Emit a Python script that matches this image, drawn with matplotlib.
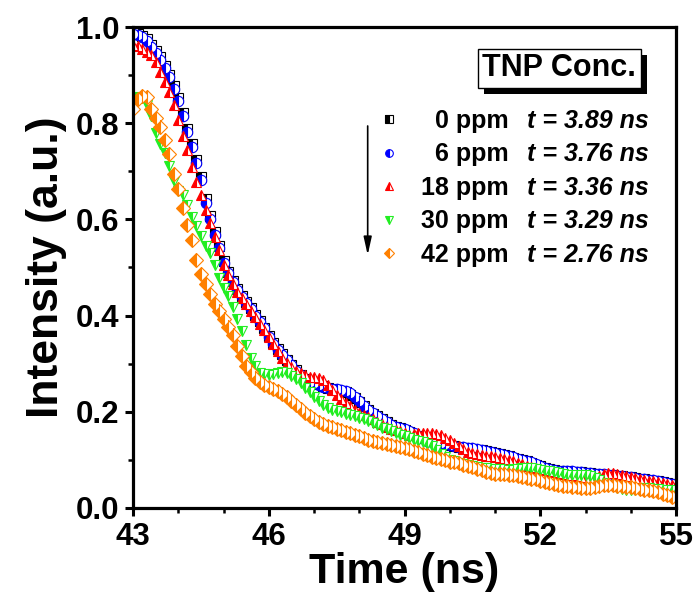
import numpy as np
import matplotlib
matplotlib.use('Agg')
import matplotlib.pyplot as plt
from matplotlib.lines import Line2D
import matplotlib.patheffects as pe

plt.rcParams['font.family'] = ['Liberation Sans', 'DejaVu Sans']
plt.rcParams['font.weight'] = 'bold'

# time axis (ns), sampled every 0.1 ns
time_ns = np.round(np.arange(430, 551) / 10.0, 1)

# normalised decay curves
ppm_0 = [0.988, 0.985, 0.981, 0.975, 0.962, 0.951, 0.937, 0.920, 0.901, 0.877,
         0.852, 0.821, 0.788, 0.756, 0.724, 0.688, 0.642, 0.606, 0.573, 0.545,
         0.514, 0.491, 0.472, 0.456, 0.441, 0.429, 0.416, 0.401, 0.388, 0.375,
         0.357, 0.343, 0.330, 0.319, 0.308, 0.298, 0.286, 0.277, 0.269, 0.263,
         0.260, 0.257, 0.253, 0.250, 0.248, 0.246, 0.244, 0.240, 0.235, 0.228,
         0.220, 0.211, 0.203, 0.196, 0.190, 0.184, 0.178, 0.173, 0.169, 0.166,
         0.162, 0.158, 0.154, 0.149, 0.145, 0.141, 0.138, 0.136, 0.134, 0.132,
         0.130, 0.129, 0.127, 0.125, 0.124, 0.123, 0.121, 0.120, 0.118, 0.116,
         0.114, 0.112, 0.109, 0.107, 0.104, 0.102, 0.099, 0.097, 0.094, 0.090,
         0.086, 0.083, 0.080, 0.078, 0.077, 0.076, 0.076, 0.075, 0.074, 0.074,
         0.073, 0.072, 0.071, 0.070, 0.069, 0.069, 0.068, 0.067, 0.066, 0.065,
         0.064, 0.062, 0.061, 0.059, 0.058, 0.056, 0.055, 0.053, 0.051, 0.050,
         0.049]

ppm_6 = [0.985, 0.983, 0.979, 0.972, 0.958, 0.947, 0.932, 0.915, 0.896, 0.871,
         0.846, 0.815, 0.781, 0.750, 0.718, 0.681, 0.635, 0.600, 0.568, 0.541,
         0.510, 0.488, 0.469, 0.453, 0.439, 0.427, 0.414, 0.399, 0.386, 0.374,
         0.355, 0.341, 0.329, 0.318, 0.307, 0.297, 0.285, 0.276, 0.268, 0.262,
         0.260, 0.256, 0.252, 0.250, 0.248, 0.247, 0.245, 0.242, 0.238, 0.230,
         0.222, 0.212, 0.203, 0.197, 0.190, 0.185, 0.178, 0.172, 0.169, 0.166,
         0.163, 0.159, 0.155, 0.150, 0.145, 0.140, 0.137, 0.135, 0.134, 0.132,
         0.131, 0.129, 0.127, 0.126, 0.125, 0.124, 0.122, 0.120, 0.119, 0.117,
         0.115, 0.112, 0.110, 0.107, 0.105, 0.102, 0.100, 0.097, 0.095, 0.091,
         0.087, 0.083, 0.080, 0.078, 0.077, 0.077, 0.076, 0.076, 0.075, 0.074,
         0.073, 0.072, 0.071, 0.071, 0.070, 0.069, 0.068, 0.067, 0.066, 0.065,
         0.064, 0.063, 0.061, 0.059, 0.058, 0.057, 0.055, 0.053, 0.052, 0.050,
         0.048]

ppm_18 = [0.962, 0.961, 0.954, 0.948, 0.942, 0.928, 0.907, 0.886, 0.864, 0.838,
          0.806, 0.773, 0.744, 0.708, 0.677, 0.650, 0.620, 0.592, 0.563, 0.536,
          0.505, 0.484, 0.465, 0.449, 0.436, 0.423, 0.410, 0.396, 0.383, 0.370,
          0.355, 0.340, 0.326, 0.312, 0.302, 0.292, 0.285, 0.280, 0.276, 0.273,
          0.272, 0.270, 0.265, 0.255, 0.245, 0.235, 0.226, 0.218, 0.211, 0.204,
          0.198, 0.193, 0.189, 0.184, 0.179, 0.174, 0.169, 0.165, 0.162, 0.159,
          0.156, 0.152, 0.153, 0.155, 0.156, 0.156, 0.156, 0.154, 0.151, 0.146,
          0.141, 0.134, 0.128, 0.122, 0.117, 0.114, 0.111, 0.110, 0.108, 0.107,
          0.105, 0.103, 0.101, 0.100, 0.097, 0.094, 0.091, 0.088, 0.085, 0.083,
          0.080, 0.078, 0.076, 0.074, 0.072, 0.071, 0.069, 0.068, 0.066, 0.064,
          0.063, 0.062, 0.063, 0.066, 0.070, 0.072, 0.072, 0.071, 0.069, 0.067,
          0.065, 0.063, 0.060, 0.058, 0.056, 0.055, 0.053, 0.051, 0.049, 0.048,
          0.047]

ppm_30 = [0.845, 0.855, 0.852, 0.838, 0.815, 0.780, 0.757, 0.737, 0.710, 0.680,
          0.660, 0.650, 0.630, 0.604, 0.586, 0.565, 0.545, 0.530, 0.505, 0.478,
          0.458, 0.440, 0.417, 0.392, 0.368, 0.338, 0.312, 0.295, 0.281, 0.278,
          0.277, 0.278, 0.281, 0.283, 0.280, 0.274, 0.267, 0.259, 0.249, 0.240,
          0.231, 0.223, 0.214, 0.207, 0.203, 0.201, 0.199, 0.196, 0.193, 0.190,
          0.187, 0.184, 0.180, 0.176, 0.172, 0.167, 0.163, 0.159, 0.155, 0.152,
          0.149, 0.146, 0.142, 0.139, 0.136, 0.133, 0.128, 0.120, 0.113, 0.106,
          0.100, 0.097, 0.094, 0.091, 0.089, 0.087, 0.085, 0.083, 0.082, 0.081,
          0.080, 0.080, 0.079, 0.079, 0.080, 0.081, 0.082, 0.082, 0.082, 0.081,
          0.079, 0.077, 0.076, 0.074, 0.072, 0.070, 0.069, 0.069, 0.069, 0.068,
          0.068, 0.067, 0.063, 0.057, 0.052, 0.048, 0.045, 0.042, 0.039, 0.037,
          0.037, 0.038, 0.040, 0.041, 0.041, 0.040, 0.039, 0.038, 0.037, 0.037,
          0.036]

ppm_42 = [0.830, 0.850, 0.857, 0.855, 0.830, 0.810, 0.792, 0.766, 0.735, 0.694,
          0.663, 0.624, 0.588, 0.557, 0.516, 0.486, 0.465, 0.444, 0.425, 0.409,
          0.393, 0.377, 0.359, 0.336, 0.315, 0.296, 0.282, 0.270, 0.262, 0.255,
          0.251, 0.248, 0.243, 0.236, 0.230, 0.222, 0.214, 0.206, 0.198, 0.191,
          0.184, 0.178, 0.174, 0.170, 0.168, 0.165, 0.161, 0.158, 0.155, 0.152,
          0.149, 0.145, 0.142, 0.139, 0.136, 0.134, 0.132, 0.131, 0.129, 0.127,
          0.125, 0.122, 0.119, 0.116, 0.112, 0.109, 0.106, 0.104, 0.102, 0.099,
          0.096, 0.095, 0.093, 0.090, 0.087, 0.085, 0.081, 0.078, 0.075, 0.072,
          0.071, 0.070, 0.070, 0.069, 0.068, 0.066, 0.065, 0.063, 0.061, 0.059,
          0.056, 0.053, 0.051, 0.049, 0.047, 0.046, 0.045, 0.044, 0.043, 0.042,
          0.041, 0.041, 0.043, 0.045, 0.047, 0.048, 0.047, 0.046, 0.045, 0.044,
          0.044, 0.042, 0.040, 0.038, 0.037, 0.035, 0.032, 0.029, 0.026, 0.023,
          0.022]

ppm_labels = ['  0 ppm', '  6 ppm', '18 ppm', '30 ppm', '42 ppm']
lifetimes = ['t = 3.89 ns', 't = 3.76 ns', 't = 3.36 ns', 't = 3.29 ns', 't = 2.76 ns']

series = [ppm_0, ppm_6, ppm_18, ppm_30, ppm_42]
colors = ['black', '#0000ff', '#ff0000', '#22ee22', '#ff8000']
markers = ['s', 'o', '^', 'v', 'D']

fig = plt.figure(figsize=(6.97, 6.01), dpi=100)
ax = fig.add_axes([0.191, 0.155, 0.779, 0.800])

for y, c, m in zip(series, colors, markers):
    ax.plot(time_ns, y, linestyle='none', marker=m, markersize=7.5,
            fillstyle='left', markerfacecolor=c, markerfacecoloralt='white',
            markeredgecolor=c, markeredgewidth=0.8)

ax.set_xlim(43, 55)
ax.set_ylim(0, 1.0)
ax.set_xticks([43, 46, 49, 52, 55])
ax.set_xticks(np.arange(43, 56, 1), minor=True)
ax.set_yticks([0.0, 0.2, 0.4, 0.6, 0.8, 1.0])
ax.set_yticks(np.arange(0, 1.01, 0.1), minor=True)
ax.set_yticklabels(['0.0', '0.2', '0.4', '0.6', '0.8', '1.0'])

for s in ax.spines.values():
    s.set_linewidth(2.3)
ax.tick_params(which='major', direction='out', length=6, width=2.2,
               labelsize=22.5, pad=4)
ax.tick_params(which='minor', direction='out', length=3.5, width=1.8)

ax.set_xlabel('Time (ns)', fontsize=31, fontweight='bold', labelpad=0)
ax.set_ylabel('Intensity (a.u.)', fontsize=32, fontweight='bold', labelpad=6)

# legend: markers + concentrations
handles = [Line2D([], [], linestyle='none', marker=m, markersize=5.5,
                  fillstyle='left', markerfacecolor=c, markerfacecoloralt='white',
                  markeredgecolor=c, markeredgewidth=0.8)
           for c, m in zip(colors, markers)]
leg = ax.legend(handles, ppm_labels, loc='upper left',
                bbox_to_anchor=(0.45, 0.83), frameon=False,
                prop={'size': 18, 'weight': 'bold'},
                handlelength=0.9, handletextpad=0.85, labelspacing=0.38,
                borderaxespad=0, borderpad=0)

fig.canvas.draw()
for txt, lt in zip(leg.get_texts(), lifetimes):
    ax.annotate(lt, xy=(1, 0.5), xycoords=txt, xytext=(13, 0),
                textcoords='offset points', va='center', ha='left',
                fontsize=18, fontweight='bold', fontstyle='italic')

title = ax.text(0.785, 0.914, 'TNP Conc.', transform=ax.transAxes,
                ha='center', va='center', fontsize=22, fontweight='bold',
                bbox=dict(boxstyle='square,pad=0.15', facecolor='white',
                          edgecolor='black', linewidth=1))
title.get_bbox_patch().set_path_effects(
    [pe.SimplePatchShadow(offset=(4.5, -4.5), shadow_rgbFace='black', alpha=1),
     pe.Normal()])

ax.annotate('', xy=(0.432, 0.52), xytext=(0.432, 0.80),
            xycoords='axes fraction', textcoords='axes fraction',
            arrowprops=dict(arrowstyle='-|>,head_length=0.9,head_width=0.2',
                            color='black', lw=1.2, mutation_scale=12))

fig.savefig('out.png', dpi=100)
